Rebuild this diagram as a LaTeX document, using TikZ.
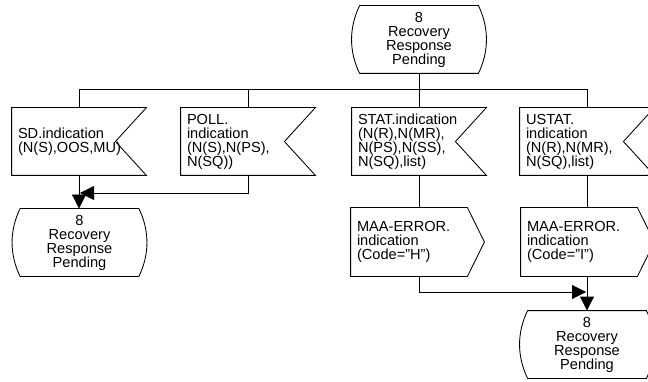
\documentclass[tikz,border=0pt]{standalone}
\usepackage{fontspec}
\setmainfont{Liberation Sans}
\usetikzlibrary{arrows.meta}
\newcommand\insigshape[1]{\draw (#1.north west) -- (#1.north east) -- ([xshift=-31pt]#1.east) -- (#1.south east) -- (#1.south west) -- cycle;}
\newcommand\outsigshape[1]{\draw (#1.north west) -- ([xshift=-17pt]#1.north east) -- (#1.east) -- ([xshift=-17pt]#1.south east) -- (#1.south west) -- cycle;}
\newcommand\stateshape[1]{\draw ([xshift=8pt]#1.north west) -- ([xshift=-8pt]#1.north east)
  .. controls ([shift={(2.7pt,-22.3pt)}]#1.north east) and ([shift={(2.7pt,22.3pt)}]#1.south east) .. ([xshift=-8pt]#1.south east)
  -- ([xshift=8pt]#1.south west)
  .. controls ([shift={(-2.7pt,22.3pt)}]#1.south west) and ([shift={(-2.7pt,-22.3pt)}]#1.north west) .. cycle;}
\begin{document}
\begin{tikzpicture}[x=1pt,y=-1pt,line width=0.85pt,
  txt/.style={font=\fontsize{14.6}{14}\selectfont,inner ysep=0pt,inner xsep=6pt},
  insig/.style={txt,text width=122pt,minimum height=67pt,align=left},
  outsig/.style={txt,text width=121pt,minimum height=68pt,align=left},
  statebox/.style={txt,minimum width=134pt,minimum height=67pt,align=center},
  arr/.style={-{Triangle[length=14pt,width=14pt]}}]
\clip (0,0) rectangle (648,382);
% states
\node[statebox] (s1) at (419,39.5) {8\\Recovery\\Response\\Pending};
\stateshape{s1}
\node[statebox] (s2) at (79.5,242.5) {8\\Recovery\\Response\\Pending};
\stateshape{s2}
\node[statebox] (s3) at (587,344.5) {8\\Recovery\\Response\\Pending};
\stateshape{s3}
% input signals
\node[insig] (sd) at (79,141.5) {SD.indication\\(N(S),OOS,MU)};
\insigshape{sd}
\node[insig] (poll) at (248,141.5) {POLL.\\indication\\(N(S),N(PS),\\N(SQ))};
\insigshape{poll}
\node[insig] (stat) at (419,141.5) {STAT.indication\\(N(R),N(MR),\\N(PS),N(SS),\\N(SQ),list)};
\insigshape{stat}
\node[insig] (ustat) at (587,141.5) {USTAT.\\indication\\(N(R),N(MR),\\N(SQ),list)};
\insigshape{ustat}
% output signals
\node[outsig] (maah) at (417.5,242) {MAA-ERROR.\\indication\\(Code="H")};
\outsigshape{maah}
\node[outsig] (maai) at (587.5,242) {MAA-ERROR.\\indication\\(Code="I")};
\outsigshape{maai}
% connectors
\coordinate (busL) at (79,89);
\coordinate (busR) at (587,89);
\coordinate (j1) at (80,193);
\coordinate (j2) at (586,292);
\draw (s1.south) -- (s1.south |- busL);
\draw (busL) -- (busR);
\draw (busL) -- (sd.north);
\draw (poll.north |- busL) -- (poll.north);
\draw (stat.north |- busL) -- (stat.north);
\draw (busR) -- (ustat.north);
\draw[arr] (sd.south) -- (sd.south |- s2.north);
\draw[arr] (poll.south) |- (j1);
\draw (stat.south) -- (stat.south |- maah.north);
\draw (ustat.south) -- (ustat.south |- maai.north);
\draw[arr] (stat.south |- maah.south) |- (j2);
\draw[arr] (ustat.south |- maai.south) -- (ustat.south |- s3.north);
\end{tikzpicture}
\end{document}
